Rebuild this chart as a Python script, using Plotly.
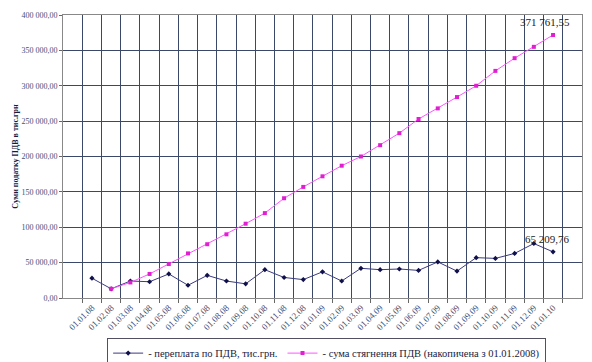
import plotly.graph_objects as go

dates = ["01.01.08","01.02.08","01.03.08","01.04.08","01.05.08","01.06.08","01.07.08","01.08.08",
         "01.09.08","01.10.08","01.11.08","01.12.08","01.01.09","01.02.09","01.03.09","01.04.09",
         "01.05.09","01.06.09","01.07.09","01.08.09","01.09.09","01.10.09","01.11.09","01.12.09","01.01.10"]
overpay = [28000, 13000, 24000, 23000, 34000, 18000, 32000, 24000, 20000, 40000, 29000, 26000, 37000,
           24000, 42000, 40000, 41000, 39000, 51000, 38000, 57000, 56000, 63000, 77000, 65209.76]
collected = [None, 13000, 22000, 34000, 48000, 63000, 76000, 90000, 105000, 120000, 141000, 157000, 172000,
             187000, 200000, 216000, 233000, 253000, 268000, 284000, 300000, 321000, 339000, 355000, 371761.55]
ytick_vals = [0, 50000, 100000, 150000, 200000, 250000, 300000, 350000, 400000]
ytick_text = ["0,00", "50 000,00", "100 000,00", "150 000,00", "200 000,00", "250 000,00",
              "300 000,00", "350 000,00", "400 000,00"]
name_overpay = "- переплата по ПДВ, тис.грн."
name_collected = "- сума стягнення ПДВ (накопичена з 01.01.2008)"
label_overpay = "65 209,76"
label_collected = "371 761,55"

font = "Liberation Serif, Times New Roman, serif"
fig = go.Figure()
fig.add_trace(go.Scatter(x=dates, y=overpay, mode="lines+markers", name=name_overpay,
                         line=dict(color="#3a3a80", width=1),
                         marker=dict(symbol="diamond", size=4, color="#10104a")))
fig.add_trace(go.Scatter(x=dates, y=collected, mode="lines+markers", name=name_collected,
                         line=dict(color="#ff55ff", width=1),
                         marker=dict(symbol="square", size=4, color="#e020d0")))
fig.add_annotation(x=dates[-1], y=collected[-1], text=label_collected, showarrow=False,
                   yshift=13, xshift=-8, font=dict(family=font, size=11, color="#222"))
fig.add_annotation(x=dates[-1], y=overpay[-1], text=label_overpay, showarrow=False,
                   yshift=13, xshift=-6, font=dict(family=font, size=11, color="#222"))

fig.update_layout(
    width=592, height=362, margin=dict(l=63, r=10, t=15, b=64, autoexpand=False),
    paper_bgcolor="white", plot_bgcolor="white",
    font=dict(family=font, size=8, color="#4a5070"),
    showlegend=True,
    legend=dict(orientation="h", x=0.508, xanchor="center", y=-0.14, yanchor="top",
                bordercolor="#505060", borderwidth=1, font=dict(family=font, size=10.5, color="#1a1a40"),
                itemwidth=30, tracegroupgap=0),
    xaxis=dict(type="category", tickson="boundaries", tickangle=-45, showgrid=True, automargin=False,
               gridcolor="#3c4868", gridwidth=1.3, linecolor="#888", mirror=True, showline=True,
               tickfont=dict(size=9, color="#4a5070"), ticks="outside", ticklen=4, tickcolor="#666"),
    yaxis=dict(range=[0, 400000], tickvals=ytick_vals, ticktext=ytick_text, showgrid=True, automargin=False,
               gridcolor="#3c4868", gridwidth=1.3, linecolor="#888", mirror=True, showline=True,
               ticks="outside", ticklen=3, tickcolor="#666",
               tickfont=dict(size=8, color="#4a5070"),
               title=dict(text="<b>Суми податку ПДВ в тис.грн</b>", font=dict(size=8, color="#1a1a40"),
                          standoff=1)),
)
fig.write_html("out.html", post_script="document.body.style.margin='0px';",
               config={"displayModeBar": False})
